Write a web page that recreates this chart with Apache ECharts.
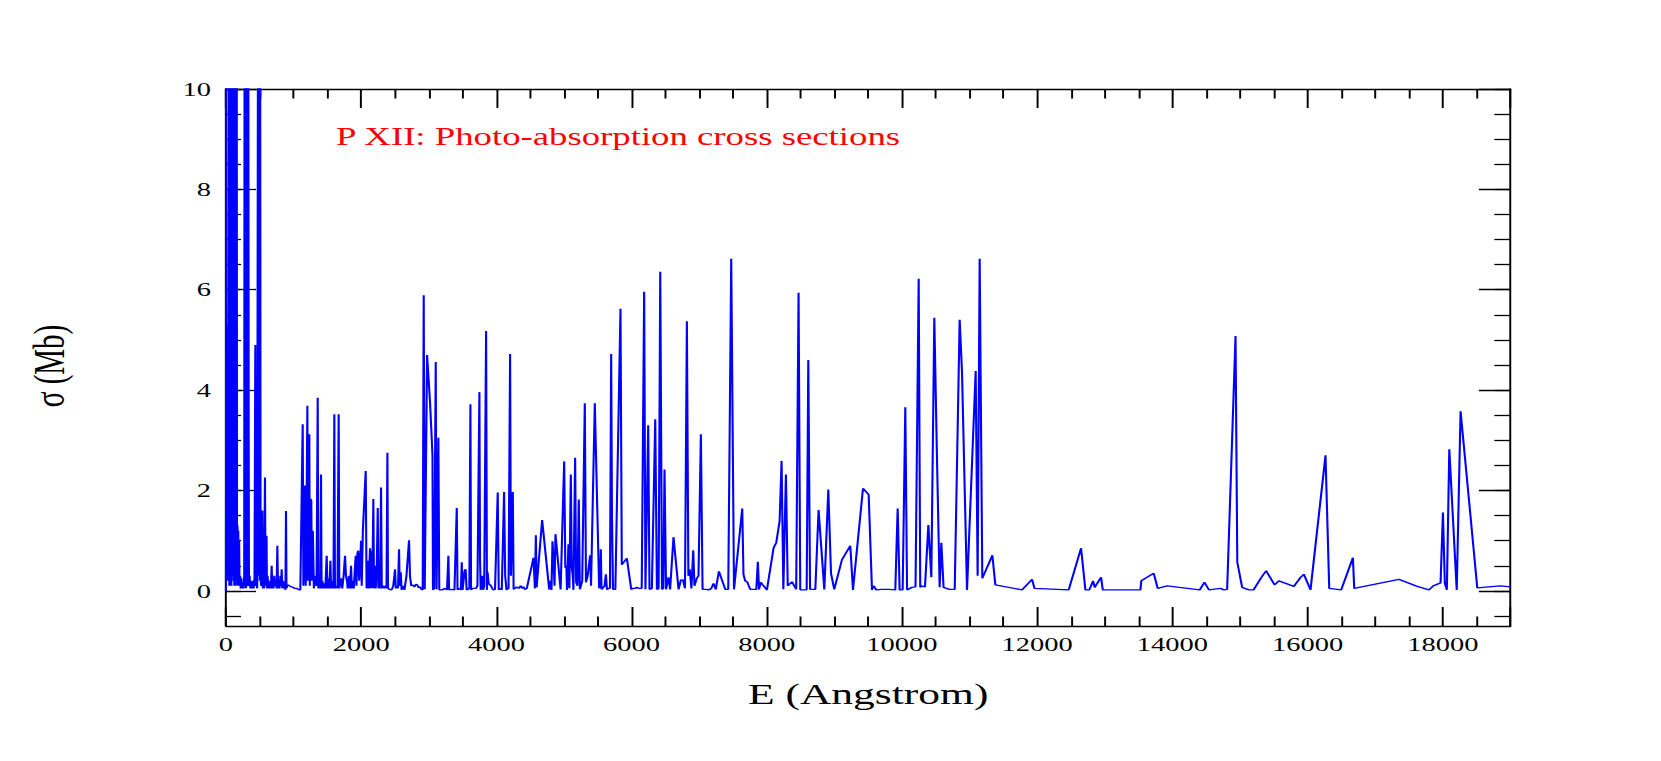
<!DOCTYPE html>
<html>
<head>
    <meta charset="utf-8">
    <title>P XII: Photo-absorption cross sections</title>
    <script src="https://cdn.jsdelivr.net/npm/echarts@6/dist/echarts.min.js"></script>
</head>
<body style="margin: 0; background: #fff">
    <!-- the original plot is stretched sideways, so the chart is drawn narrow and scaled in x -->
    <div id="container" style="width: 1107px; height: 761px; transform: scaleX(1.5005); transform-origin: 0 0"></div>
    <script type="text/javascript">
        // [E (Angstrom), sigma (Mb)], split by wavelength band
        var band0 = [
            [0, 0], [5, 12], [10, 0.3], [15, 5.3], [20, 0.5], [25, 4.8], [30, 0.2], [35, 5.2], [40, 0.6],
            [45, 14], [50, 0.1], [55, 5.3], [59, 18], [63, 0.4], [67, 3.2], [71, 0.2], [75, 2.1], [80, 0.1],
            [85, 12], [90, 0.5], [95, 2.8], [99, 20], [103, 0.3], [108, 1.8], [113, 0.2], [118, 1.3],
            [123, 0.1], [128, 11], [133, 0.4], [138, 1.5], [143, 0.1], [148, 1.2], [153, 0.2], [158, 15],
            [163, 0.3], [170, 1.3], [176, 0.1], [182, 1.2], [188, 0.2], [195, 1.0], [200, 0.1], [210, 0.3],
            [218, 0.05], [228, 0.25], [240, 0.05], [252, 0.15], [262, 0.05], [270, 0.3], [276, 14], [282, 0.1],
            [290, 0.4], [298, 0.05], [306, 16], [312, 0.2], [320, 0.1], [330, 12], [336, 2.9], [340, 0.1],
            [350, 0.3], [360, 0.05], [372, 0.2], [385, 0.05], [398, 0.2], [410, 0.05], [422, 0.25], [434, 4.9],
            [440, 0.1], [450, 0.15], [462, 0.05], [474, 12], [480, 0.3], [487, 1.3], [494, 13], [500, 0.2],
            [506, 11], [512, 0.3], [520, 0.1], [530, 0.2], [538, 1.6], [545, 0.05], [555, 0.2], [565, 0.05],
            [577, 2.26], [585, 0.1], [592, 0.3], [600, 1.1], [606, 0.05], [615, 0.3], [625, 0.05], [635, 0.2],
            [645, 0.05], [655, 0.15], [665, 0.05], [676, 0.5], [685, 0.05], [695, 0.15], [705, 0.05], [715, 0.3],
            [725, 0.1], [740, 0.15], [750, 0.05], [760, 0.9], [770, 0.05], [780, 0.2], [792, 0.05], [805, 0.3],
            [815, 0.1], [824, 0.43], [832, 0.05], [845, 0.2], [858, 0.05], [872, 0.1], [880, 0.02], [888, 1.59],
            [895, 0.05], [905, 0.1], [920, 0.12], [940, 0.1], [960, 0.08], [980, 0.08], [1000, 0.06],
            [1020, 0.05], [1040, 0.05], [1060, 0.04], [1080, 0.02], [1100, 0.02]
        ];
        var band1 = [
            [1110, 0.02], [1135, 3.32], [1145, 0.1], [1160, 0.5], [1170, 2.1], [1180, 0.1], [1190, 1.2],
            [1204, 3.69], [1212, 0.2], [1220, 1.4], [1233, 3.12], [1240, 0.1], [1250, 1.83], [1262, 1.8],
            [1270, 0.2], [1285, 1.2], [1300, 0.05], [1320, 0.3], [1340, 0.1], [1357, 3.85], [1365, 0.05],
            [1380, 0.3], [1395, 0.05], [1406, 2.32], [1414, 0.05], [1425, 0.2], [1440, 0.05], [1455, 0.15],
            [1470, 0.05], [1490, 0.7], [1500, 0.05], [1515, 0.25], [1530, 0.05], [1545, 0.6], [1555, 0.05],
            [1570, 0.2], [1590, 0.05], [1603, 3.52], [1612, 0.05], [1630, 0.1], [1650, 0.05], [1667, 3.52],
            [1676, 0.05], [1700, 0.25], [1720, 0.05], [1740, 0.3], [1761, 0.7], [1775, 0.3], [1790, 0.2],
            [1800, 0.05], [1820, 0.3], [1835, 0.05], [1850, 0.5], [1862, 0.05], [1875, 0.2], [1890, 0.05],
            [1905, 0.4], [1919, 0.7], [1930, 0.1], [1945, 0.75], [1958, 0.8], [1970, 0.2], [1985, 0.5],
            [1998, 1.0], [2008, 0.1], [2025, 1.2], [2067, 2.39], [2080, 0.05], [2095, 0.6], [2110, 0.05],
            [2131, 0.85], [2140, 0.05], [2155, 0.8], [2165, 0.05], [2180, 1.83], [2190, 0.05], [2205, 0.5],
            [2215, 0.05], [2230, 0.4], [2245, 1.65], [2255, 0.05], [2270, 0.3], [2280, 0.05], [2294, 2.06],
            [2305, 0.05], [2320, 0.1], [2340, 0.05], [2360, 0.1], [2375, 0.05], [2388, 2.75], [2396, 0.05],
            [2420, 0.03], [2450, 0.02], [2475, 0.1], [2501, 0.43], [2512, 0.05], [2530, 0.1], [2545, 0.05],
            [2560, 0.83], [2570, 0.1], [2585, 0.37], [2598, 0.02], [2620, 0.1], [2640, 0.02], [2670, 0.3],
            [2708, 1.01], [2722, 0.3], [2740, 0.1], [2760, 0.12], [2790, 0.08], [2810, 0.13], [2830, 0.12],
            [2850, 0.06], [2870, 0.08], [2890, 0.03], [2910, 0.02], [2925, 5.89], [2940, 0.03], [2975, 4.7],
            [3019, 3.75], [3055, 2.7], [3062, 0.02], [3080, 0.05], [3103, 4.56], [3115, 0.03], [3142, 3.05],
            [3155, 0.02]
        ];
        var band2 = [
            [3200, 0.02], [3240, 0.05], [3270, 0.02], [3290, 0.7], [3300, 0.02], [3340, 0.03], [3380, 0.02],
            [3414, 1.65], [3425, 0.02], [3450, 0.05], [3475, 0.02], [3488, 0.57], [3500, 0.02], [3530, 0.4],
            [3545, 0.43], [3560, 0.02], [3600, 0.05], [3616, 3.72], [3625, 0.02], [3650, 0.05], [3700, 0.05],
            [3720, 0.1], [3749, 3.96], [3758, 0.63], [3768, 0.02], [3790, 0.3], [3805, 0.02], [3820, 0.1],
            [3848, 5.18], [3860, 0.02], [3870, 0.37], [3885, 0.15], [3920, 0.1], [3950, 0.02], [3980, 0.03],
            [4020, 1.96], [4035, 0.02], [4060, 0.05], [4080, 0.02], [4114, 1.97], [4130, 0.3], [4150, 0.02],
            [4180, 0.05], [4203, 4.72], [4215, 0.3], [4225, 0.3], [4243, 1.97], [4255, 0.03], [4277, 0.05],
            [4300, 0.08], [4330, 0.05], [4360, 0.1], [4380, 0.05], [4400, 0.08], [4420, 0.03], [4450, 0.05],
            [4549, 0.66], [4570, 0.05], [4584, 1.11], [4595, 0.07], [4677, 1.41], [4781, 0.03], [4800, 0.2],
            [4815, 0.02], [4830, 0.99], [4845, 0.6], [4860, 0.1], [4874, 1.13], [4950, 0.03], [5003, 2.58],
            [5020, 0.46], [5035, 0.5], [5045, 0.02], [5066, 0.93], [5080, 0.05], [5101, 2.32], [5115, 0.46],
            [5130, 0.3], [5140, 0.02], [5165, 2.65], [5180, 0.17], [5200, 0.1], [5219, 1.82], [5235, 0.03],
            [5270, 0.2], [5308, 3.74], [5325, 0.17], [5350, 0.3], [5387, 0.71], [5400, 0.1], [5456, 3.74],
            [5520, 0.05], [5535, 0.1], [5545, 0.83], [5555, 0.03], [5600, 0.1], [5620, 0.33], [5635, 0.03],
            [5660, 0.05], [5680, 0.05], [5698, 4.72], [5710, 1.46], [5725, 0.03], [5760, 0.03], [5836, 5.62],
            [5855, 0.52], [5930, 0.65], [5995, 0.03], [6020, 0.05], [6050, 0.05], [6077, 0.07], [6110, 0.05],
            [6150, 0.05]
        ];
        var band3 = [
            [6186, 5.96], [6205, 0.03], [6246, 3.3], [6265, 0.03], [6300, 0.05], [6350, 3.42], [6375, 0.03],
            [6400, 0.05], [6424, 6.36], [6450, 0.03], [6470, 0.05], [6487, 2.42], [6510, 0.03], [6546, 0.27],
            [6570, 0.03], [6620, 1.07], [6695, 0.03], [6730, 0.22], [6760, 0.22], [6790, 0.05], [6818, 5.37],
            [6840, 0.3], [6860, 0.43], [6885, 0.05], [6912, 0.81], [6930, 0.1], [6965, 0.25], [6990, 0.3],
            [7025, 3.12], [7050, 0.03], [7100, 0.03], [7140, 0.02], [7180, 0.05], [7212, 0.15], [7245, 0.03],
            [7292, 0.39], [7386, 0.03], [7430, 0.03], [7474, 6.62], [7515, 0.03], [7637, 1.64], [7655, 0.33],
            [7680, 0.2], [7710, 0.18], [7756, 0.03], [7845, 0.03], [7868, 0.58], [7885, 0.03], [7910, 0.17],
            [7940, 0.12], [8002, 0.02], [8101, 0.86], [8140, 0.96], [8190, 1.39], [8219, 2.59], [8245, 0.03],
            [8283, 2.32], [8310, 0.1], [8372, 0.18], [8435, 0.03], [8470, 5.94], [8495, 0.02], [8590, 0.02],
            [8614, 4.6], [8640, 0.03], [8718, 0.03], [8766, 1.61], [8851, 0.03], [8910, 2.02], [8950, 0.35],
            [8998, 0.03]
        ];
        var band4 = [
            [9112, 0.62], [9235, 0.9], [9275, 0.02], [9423, 2.04], [9507, 1.92], [9556, 0.02], [9580, 0.1],
            [9620, 0.02], [9700, 0.03], [9800, 0.03], [9901, 0.02], [9936, 1.64], [9965, 0.02], [10010, 0.02],
            [10049, 3.66], [10075, 0.02], [10148, 0.07], [10200, 0.08], [10247, 6.22], [10270, 0.07],
            [10290, 0.1], [10340, 0.08], [10390, 1.31], [10434, 0.27], [10478, 5.44], [10517, 2.69],
            [10557, 0.07], [10582, 0.96], [10615, 0.07], [10700, 0.03], [10780, 0.03], [10853, 5.4],
            [10888, 4.35], [10962, 0.02], [11090, 4.38], [11119, 0.3], [11149, 6.62], [11188, 0.25],
            [11337, 0.71], [11381, 0.12], [11776, 0.02], [11924, 0.23], [11960, 0.05]
        ];
        var band5 = [
            [12466, 0.02], [12649, 0.85], [12713, 0.02], [12770, 0.02], [12827, 0.2], [12850, 0.07],
            [12945, 0.27], [12970, 0.02], [13527, 0.02], [13540, 0.2], [13724, 0.35], [13783, 0.05],
            [13921, 0.1], [14405, 0.02], [14474, 0.17], [14540, 0.02], [14711, 0.05], [14760, 0.02],
            [14810, 0.03], [14934, 5.08], [14960, 0.57], [15032, 0.07], [15130, 0.02], [15200, 0.02],
            [15318, 0.27], [15387, 0.4], [15511, 0.12], [15575, 0.2], [15797, 0.09], [15896, 0.27],
            [15945, 0.33], [16043, 0.02], [16265, 2.7], [16320, 0.05], [16497, 0.02], [16670, 0.66],
            [16690, 0.05], [17351, 0.23], [17622, 0.09], [17795, 0.02], [17860, 0.1], [17967, 0.16],
            [18002, 1.56], [18030, 0.15], [18060, 0.02], [18096, 2.82], [18206, 0.02], [18263, 3.58],
            [18510, 0.06], [18856, 0.1], [19000, 0.08]
        ];

        var yLabelValues = [0, 2, 4, 6, 8, 10];
        var yMinorValues = [-0.5, 0, 0.5, 1, 1.5, 2, 2.5, 3, 3.5, 4, 4.5, 5, 5.5, 6, 6.5, 7, 7.5, 8, 8.5, 9, 9.5, 10];

        var serif   = 'Liberation Serif';
        var ink     = '#000';
        var axisLn  = {color: ink, width: 1.3};

        var dom     = document.getElementById('container');
        var myChart = echarts.init(dom, null, {renderer: 'svg'});

        function xAxisOf(pos, withLabels) {
            return {
                type: 'value',
                position: pos,
                min: 0,
                max: 19000,
                interval: 2000,
                axisLine: {onZero: false, lineStyle: axisLn},
                axisTick: {inside: true, length: 19, lineStyle: axisLn},
                minorTick: {show: true, splitNumber: 4, length: 9.5, lineStyle: axisLn},
                splitLine: {show: false},
                axisLabel: {
                    show: withLabels,
                    fontFamily: serif,
                    fontSize: 19,
                    color: ink,
                    margin: 9,
                    formatter: function (val) { return String(val); }
                },
                name: withLabels ? 'E (Angstrom)' : '',
                nameLocation: 'middle',
                nameGap: 54,
                nameTextStyle: {fontFamily: serif, fontSize: 29, color: ink}
            };
        }

        function yAxisOf(pos, ticks, len, withLine, withLabels) {
            return {
                type: 'value',
                position: pos,
                min: -0.7,
                max: 10,
                axisLine: {show: withLine, onZero: false, lineStyle: axisLn},
                axisTick: {inside: true, length: len, customValues: ticks, lineStyle: axisLn},
                splitLine: {show: false},
                axisLabel: {
                    show: withLabels,
                    customValues: yLabelValues,
                    fontFamily: serif,
                    fontSize: 19,
                    color: ink,
                    margin: 10
                },
                name: withLabels ? 'σ (Mb)' : '',
                nameLocation: 'middle',
                nameRotate: 90,
                nameGap: 103,
                nameTextStyle: {fontFamily: serif, fontSize: 29, color: ink, padding: [0, 17, 0, 0]}
            };
        }

        var option = {
            animation: false,
            backgroundColor: '#fff',
            title: {
                text: 'P XII: Photo-absorption cross sections',
                left: 224,
                top: 124,
                padding: 0,
                textStyle: {color: '#ff0000', fontFamily: serif, fontSize: 24.5, fontWeight: 'normal'}
            },
            grid: {left: 150.6, right: 100.4, top: 89, bottom: 135},
            xAxis: [xAxisOf('bottom', true), xAxisOf('top', false)],
            yAxis: [
                yAxisOf('left', yLabelValues, 20, true, true),
                yAxisOf('left', yMinorValues, 10, false, false),
                yAxisOf('right', yLabelValues, 21, true, false),
                yAxisOf('right', yMinorValues, 10.7, false, false)
            ],
            series: [{
                type: 'line',
                xAxisIndex: 0,
                yAxisIndex: 0,
                showSymbol: false,
                clip: true,
                lineStyle: {color: '#0000ff', width: 1.4},
                data: band0.concat(band1, band2, band3, band4, band5)
            }]
        };

        myChart.setOption(option);
    </script>
</body>
</html>
